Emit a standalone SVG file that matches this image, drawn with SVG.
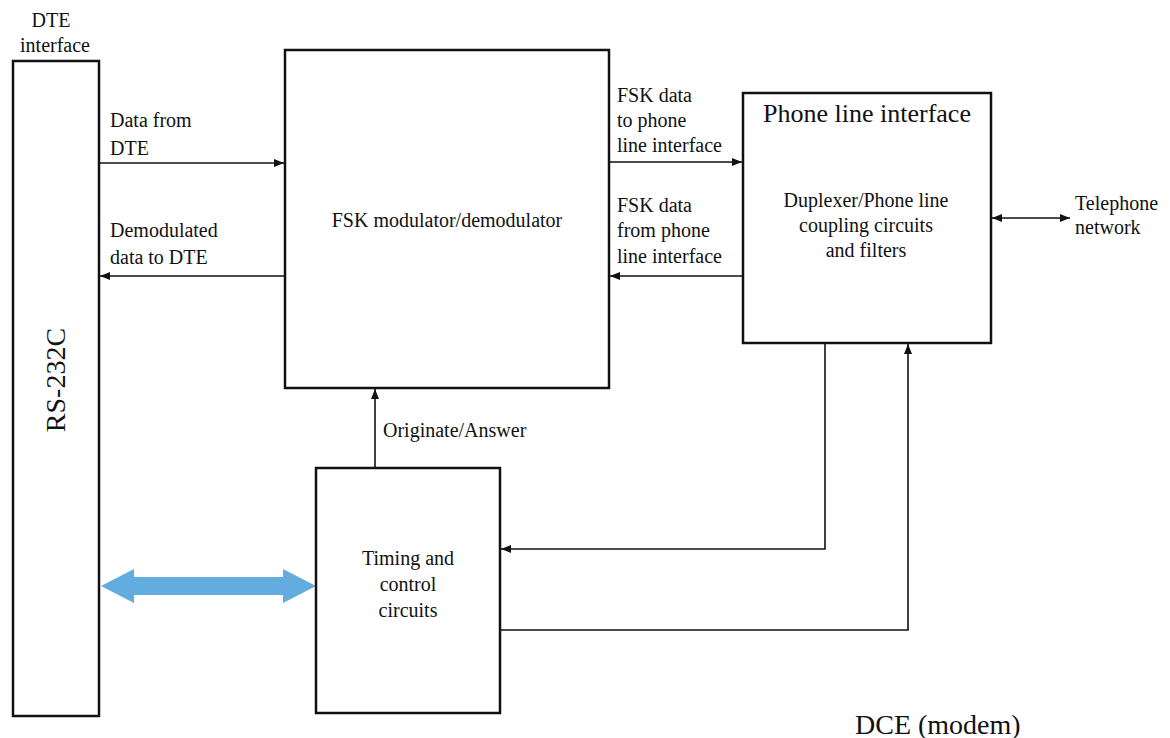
<svg xmlns="http://www.w3.org/2000/svg" width="1170" height="738" viewBox="0 0 1170 738">
<defs>
<marker id="ah" viewBox="0 0 10 8" refX="10" refY="4" markerWidth="10" markerHeight="8" markerUnits="userSpaceOnUse" orient="auto-start-reverse">
<path d="M0,0 L10,4 L0,8 Z" fill="#111"/>
</marker>
</defs>
<style>
.box{fill:#fff;stroke:#111;stroke-width:2.5}
.ln{fill:none;stroke:#111;stroke-width:1.6}
.t{font-family:'Liberation Serif','Times New Roman','DejaVu Serif',serif;font-size:20px;fill:#111}
.m{text-anchor:middle}
.big{font-size:26px}
.rs{font-size:28px}
.dce{font-size:28px}
</style>
<rect width="1170" height="738" fill="#fff"/>
<g id="connectors">
<line class="ln" x1="99" y1="163" x2="284" y2="163" marker-end="url(#ah)"/>
<line class="ln" x1="285" y1="276" x2="100" y2="276" marker-end="url(#ah)"/>
<line class="ln" x1="609" y1="162" x2="742" y2="162" marker-end="url(#ah)"/>
<line class="ln" x1="743" y1="276" x2="610" y2="276" marker-end="url(#ah)"/>
<line class="ln" x1="992" y1="218" x2="1070" y2="218" marker-start="url(#ah)" marker-end="url(#ah)"/>
<line class="ln" x1="375" y1="468" x2="375" y2="389" marker-end="url(#ah)"/>
<polyline class="ln" points="825,343 825,549 501,549" marker-end="url(#ah)"/>
<polyline class="ln" points="500,630 908,630 908,344" marker-end="url(#ah)"/>
<path d="M101,586 L134,569 L134,577 L283,577 L283,569 L316,586 L283,603 L283,595 L134,595 L134,603 Z" fill="#62acdf"/>
<text class="t" x="110" y="127">Data from</text>
<text class="t" x="110" y="155">DTE</text>
<text class="t" x="110" y="237">Demodulated</text>
<text class="t" x="110" y="264">data to DTE</text>
<text class="t" x="617" y="102">FSK data</text>
<text class="t" x="617" y="127">to phone</text>
<text class="t" x="617" y="152">line interface</text>
<text class="t" x="617" y="212">FSK data</text>
<text class="t" x="617" y="237">from phone</text>
<text class="t" x="617" y="263">line interface</text>
<text class="t" x="1075" y="210">Telephone</text>
<text class="t" x="1075" y="234">network</text>
<text class="t" x="383" y="437">Originate/Answer</text>
</g>
<g id="dte-label">
<text class="t m" x="51" y="27">DTE</text>
<text class="t m" x="55" y="52">interface</text>
</g>
<g id="rs232c">
<rect class="box" x="13" y="61" width="86" height="655"/>
<text class="t m rs" x="0" y="0" transform="translate(65,380) rotate(-90)">RS-232C</text>
</g>
<g id="fsk">
<rect class="box" x="285" y="50" width="324" height="338"/>
<text class="t m" x="447" y="227">FSK modulator/demodulator</text>
</g>
<g id="phone">
<rect class="box" x="743" y="93" width="248" height="250"/>
<text class="t m big" x="867" y="122">Phone line interface</text>
<text class="t m" x="866" y="207">Duplexer/Phone line</text>
<text class="t m" x="866" y="232">coupling circuits</text>
<text class="t m" x="866" y="257">and filters</text>
</g>
<g id="timing">
<rect class="box" x="316" y="468" width="184" height="245"/>
<text class="t m" x="408" y="565">Timing and</text>
<text class="t m" x="408" y="591">control</text>
<text class="t m" x="408" y="617">circuits</text>
</g>
<g id="dce-label">
<text class="t dce" x="855" y="734">DCE (modem)</text>
</g>
</svg>
